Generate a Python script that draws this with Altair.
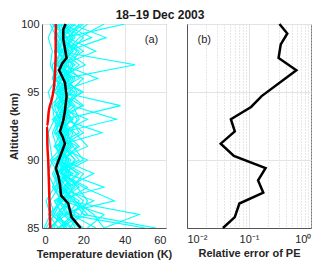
import altair as alt
import pandas as pd

altitudes = [85, 86, 87, 88, 89, 90, 91, 92, 93, 94, 95, 96, 97, 98, 99, 100]

cyan_profiles = [
    [55, 20, 15, 10, 8, 12, 6, 9, 14, 10, 7, 12, 9, 15, 10, 8],
    [50, 12, 8, 18, 10, 5, 14, 8, 6, 20, 12, 8, 16, 7, 11, 40],
    [30, 47, 12, 6, 14, 9, 18, 11, 8, 12, 16, 5, 9, 12, 31, 14],
    [12, 8, 35, 20, 9, 13, 6, 29, 10, 7, 15, 11, 45, 8, 6, 12],
    [18, 10, 6, 30, 12, 8, 11, 9, 36, 14, 8, 27, 10, 26, 12, 5],
    [8, 15, 20, 12, 25, 10, 7, 13, 11, 38, 9, 14, 7, 12, 18, 30],
    [22, 30, 10, 8, 6, 18, 12, 7, 15, 9, 20, 8, 12, 10, 14, 22],
    [5, 9, 14, 11, 18, 7, 22, 16, 9, 12, 6, 10, 18, 9, 7, 13],
    [15, 6, 9, 16, 7, 12, 9, 20, 13, 8, 11, 16, 8, 14, 20, 9],
    [10, 18, 7, 13, 10, 22, 8, 12, 18, 15, 9, 7, 21, 11, 9, 16],
    [3, 12, 18, 7, 15, 6, 14, 10, 7, 11, 19, 9, 11, 17, 8, 6],
    [26, 14, 11, 22, 9, 16, 10, 8, 12, 7, 13, 20, 6, 9, 16, 11],
    [7, 22, 16, 9, 13, 11, 17, 6, 10, 19, 8, 12, 15, 7, 13, 18],
    [14, 4, 10, 15, 20, 8, 12, 15, 6, 9, 14, 6, 10, 20, 11, 7],
    [20, 11, 25, 8, 11, 14, 6, 18, 14, 10, 7, 18, 12, 8, 24, 10],
    [9, 16, 8, 12, 7, 20, 15, 9, 22, 6, 12, 10, 14, 18, 9, 19],
    [12, 7, 13, 10, 17, 9, 11, 13, 8, 16, 10, 13, 9, 11, 15, 8],
    [4, 10, 6, 14, 9, 12, 8, 11, 10, 13, 6, 9, 11, 8, 10, 12],
    [16, 13, 9, 6, 12, 16, 11, 7, 15, 8, 11, 15, 7, 13, 8, 14],
    [6, 8, 12, 9, 6, 10, 13, 10, 12, 11, 9, 7, 13, 10, 12, 9],
    [11, 5, 8, 11, 14, 7, 9, 12, 5, 14, 10, 11, 8, 6, 9, 15],
    [2, 6, 4, 8, 5, 9, 7, 5, 8, 6, 8, 5, 7, 9, 6, 8],
    [8, 3, 10, 5, 8, 4, 10, 6, 9, 4, 11, 6, 5, 10, 7, 4],
    [1, 4, 2, 6, 3, 5, 4, 3, 6, 5, 3, 7, 4, 5, 3, 6],
    [30, 25, 16, 14, 10, 8, 15, 12, 10, 13, 17, 12, 9, 15, 12, 20],
    [13, 19, 22, 17, 11, 13, 9, 14, 17, 11, 8, 14, 10, 12, 14, 11],
]

black_alt = [85, 85.8, 86.3, 86.8, 87.4, 88.2, 88.8, 89.4, 89.8, 91.2, 91.7, 92.1,
             92.9, 93.6, 94.7, 95.7, 96.6, 97.1, 97.5, 98.9, 99.6, 100]
black_dev = [18.7, 14.3, 13.5, 12.7, 9.2, 8.7, 7.9, 6.7, 7.6, 11.1, 10.0, 8.7,
             10.3, 11.1, 11.9, 11.1, 8.3, 9.8, 11.9, 10.3, 10.3, 11.4]

red_alt = [85, 88.1, 90, 91.2, 92.5, 93.6, 94.5, 95.7, 97.6, 100]
red_dev = [4.0, 3.4, 3.0, 2.6, 2.5, 3.3, 4.8, 6.0, 6.6, 6.7]

pe_alt = [85, 85.8, 86.8, 87.6, 88.5, 89.4, 90.3, 91.2, 92.1, 93.0, 93.9, 94.7,
          96.6, 97.5, 98.5, 99.3, 100]
pe_err = [0.038, 0.059, 0.07, 0.17, 0.14, 0.185, 0.057, 0.035, 0.059, 0.051, 0.108,
          0.16, 0.58, 0.30, 0.325, 0.415, 0.31]

log_grid = [0.01, 0.02, 0.03, 0.04, 0.05, 0.06, 0.07, 0.08, 0.09,
            0.1, 0.2, 0.3, 0.4, 0.5, 0.6, 0.7, 0.8, 0.9, 1]

rows = []
for i, prof in enumerate(cyan_profiles):
    for a, v in zip(altitudes, prof):
        rows.append({"p": i, "alt": a, "dev": v})
cyan_df = pd.DataFrame(rows)
black_df = pd.DataFrame({"alt": black_alt, "dev": black_dev})
red_df = pd.DataFrame({"alt": red_alt, "dev": red_dev})
pe_df = pd.DataFrame({"alt": pe_alt, "err": pe_err})

FONT = "Liberation Sans"
H = 204
W = 124

yscale = alt.Scale(domain=[85, 100], nice=False, zero=False)
xscale_a = alt.Scale(domain=[0, 60], nice=False)
xscale_b = alt.Scale(type="log", domain=[0.01, 1], nice=False)

y_axis_a = alt.Axis(values=[85, 90, 95, 100], title="Altitude (km)", grid=True,
                    tickSize=0, labelPadding=3, titlePadding=1)
x_axis_a = alt.Axis(values=[0, 20, 40, 60], title="Temperature deviation (K)",
                    grid=True, tickSize=0, labelPadding=6, titlePadding=3,
                    labelOverlap=False)

cyan = alt.Chart(cyan_df).mark_line(color="#00FFFF", strokeWidth=1.1, clip=True).encode(
    x=alt.X("dev:Q", scale=xscale_a, axis=x_axis_a),
    y=alt.Y("alt:Q", scale=yscale, axis=y_axis_a),
    detail="p:N",
    order="alt:Q",
)
red = alt.Chart(red_df).mark_line(color="#FF0000", strokeWidth=2.5, interpolate="monotone").encode(
    x=alt.X("dev:Q", scale=xscale_a),
    y=alt.Y("alt:Q", scale=yscale),
    order="alt:Q",
)
black = alt.Chart(black_df).mark_line(color="black", strokeWidth=2.5).encode(
    x=alt.X("dev:Q", scale=xscale_a),
    y=alt.Y("alt:Q", scale=yscale),
    order="alt:Q",
)
label_a = alt.Chart(pd.DataFrame({"dev": [53], "alt": [98.8], "t": ["(a)"]})).mark_text(
    font=FONT, fontSize=11, color="#262626").encode(
    x=alt.X("dev:Q", scale=xscale_a),
    y=alt.Y("alt:Q", scale=yscale),
    text="t:N",
)
left = alt.layer(cyan, red, black, label_a).properties(width=W, height=H)

x_axis_b = alt.Axis(
    values=log_grid, title="Relative error of PE", grid=True, tickSize=0,
    labelPadding=5, titlePadding=3, labelFlush=True, labelOverlap=False,
    labelExpr="datum.value == 0.01 ? '10\u207b\u00b2' : datum.value == 0.1 ? '10\u207b\u00b9' : datum.value == 1 ? '10\u2070' : ''",
    gridDash=alt.condition("datum.value == 0.1", alt.value([]), alt.value([1, 2])),
    gridColor=alt.condition("datum.value == 0.1", alt.value("#e3e3e3"), alt.value("#cfcfcf")),
)
y_axis_b = alt.Axis(values=[85, 90, 95, 100], labels=False, title=None, grid=True, tickSize=0)

pe = alt.Chart(pe_df).mark_line(color="black", strokeWidth=2.5).encode(
    x=alt.X("err:Q", scale=xscale_b, axis=x_axis_b),
    y=alt.Y("alt:Q", scale=yscale, axis=y_axis_b),
    order="alt:Q",
)
label_b = alt.Chart(pd.DataFrame({"err": [0.019], "alt": [98.8], "t": ["(b)"]})).mark_text(
    font=FONT, fontSize=11, color="#262626").encode(
    x=alt.X("err:Q", scale=xscale_b),
    y=alt.Y("alt:Q", scale=yscale),
    text="t:N",
)
right = alt.layer(pe, label_b).properties(width=W, height=H)

chart = alt.hconcat(left, right, spacing=13).properties(
    title=alt.TitleParams("18\u201319 Dec 2003", font=FONT, fontSize=12, fontWeight="bold",
                          anchor="middle", offset=-4, color="#1a1a1a"),
    padding={"left": 0, "top": 0, "right": 0, "bottom": 0},
).configure_axis(
    labelFont=FONT, labelFontSize=11, labelColor="#262626",
    titleFont=FONT, titleFontSize=11, titleFontWeight="bold", titleColor="#262626",
    domainColor="#555555", gridColor="#e3e3e3", gridWidth=1,
).configure_view(stroke="#777777", strokeWidth=1)

chart.save("out.html", embed_options={"renderer": "svg", "actions": False})
